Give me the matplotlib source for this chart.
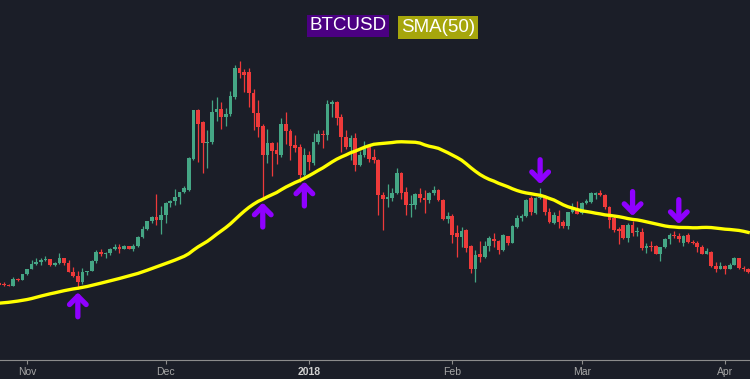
import numpy as np
import pandas as pd
import matplotlib
matplotlib.use('Agg')
import matplotlib.pyplot as plt

# Closes before the visible window (only used for the SMA(50))
early_close = [4599, 4228, 4226, 4122, 4161, 4130, 3882, 3154, 3637, 3625, 3583, 4065,
               3924, 3905, 3631, 3630, 3792, 3682, 3927, 3892, 4201, 4193, 4122, 4338,
               4404, 4409, 4318, 4230, 4329, 4371, 4439, 4611, 4773, 4782, 4820, 5432,
               5637, 5829, 5689, 5754, 5595, 5573, 5695, 6006, 6031, 5930, 5527, 5750, 5904]

# Daily OHLC, 2017-10-26 .. 2018-04-06
ohlc = [
    (5904, 5978, 5733, 5780), (5780, 5967, 5713, 5753), (5753, 5851, 5687, 5726),
    (5726, 6284, 5675, 6155), (6155, 6179, 6028, 6106), (6106, 6470, 6090, 6468),
    # Nov
    (6468, 6804, 6394, 6767), (6767, 7367, 6760, 7078), (7078, 7461, 7003, 7208),
    (7208, 7493, 7031, 7379), (7379, 7601, 7297, 7407), (7407, 7417, 6959, 7023),
    (7023, 7207, 6986, 7145), (7145, 7776, 7079, 7460), (7460, 7506, 7057, 7144),
    (7144, 7335, 6599, 6618), (6618, 6874, 6285, 6357), (6357, 6625, 5506, 5950),
    (5950, 6811, 5844, 6559), (6559, 6673, 6423, 6635), (6635, 7330, 6634, 7315),
    (7315, 7964, 7176, 7871), (7871, 8021, 7600, 7708), (7708, 7884, 7508, 7790),
    (7790, 8101, 7694, 8036), (8036, 8336, 7981, 8200), (8200, 8370, 7823, 8071),
    (8071, 8302, 8050, 8253), (8253, 8267, 8020, 8038), (8038, 8349, 7949, 8253),
    (8253, 8852, 8174, 8791), (8791, 9522, 8775, 9330), (9330, 9817, 9286, 9818),
    (9818, 10125, 9671, 10058), (10058, 11517, 9601, 9888), (9888, 10801, 9009, 10233),
    # Dec
    (10233, 11047, 9694, 10975), (10975, 11190, 10691, 11074), (11074, 11858, 10863, 11323),
    (11323, 11657, 10923, 11657), (11657, 12032, 11604, 11916), (11800, 13900, 11750, 13834),
    (13770, 16900, 13700, 16885), (16885, 16950, 13580, 15995), (16122, 16185, 12880, 14788),
    (14788, 15614, 13198, 14851), (14851, 17521, 14700, 16758), (16758, 17700, 16200, 16950),
    (16950, 17400, 15700, 16440), (16440, 17000, 15900, 16630), (16630, 18100, 16500, 17776),
    (17712, 19750, 17600, 19555), (19555, 20000, 18950, 19238), (19300, 19500, 18050, 19100),
    (19301, 19560, 17050, 17966), (17966, 18250, 15600, 16695), (16695, 17521, 15170, 15800),
    (15870, 16000, 11300, 14000), (14000, 15700, 13500, 14788), (14788, 14850, 12700, 14300),
    (14340, 14850, 13450, 14100), (14000, 16400, 13900, 16000), (16000, 16750, 14700, 15550),
    (15550, 15650, 13700, 14600), (14660, 15300, 14200, 14470), (14530, 14700, 12300, 12750),
    (12750, 14500, 12700, 14050),
    # Jan
    (14030, 14300, 13100, 13580), (13530, 15400, 13400, 14850), (14850, 15600, 14700, 15360),
    (15360, 15610, 14470, 15300), (15300, 17500, 15000, 17250), (17250, 17530, 16450, 17400),
    (17400, 17450, 15950, 16380), (16440, 16600, 14200, 15170), (15170, 15600, 14400, 14530),
    (14530, 15300, 13700, 15110), (15110, 15400, 13000, 13390), (13390, 14300, 13300, 14030),
    (14030, 14900, 13900, 14530), (14530, 14700, 13600, 13800), (13900, 14400, 13500, 13700),
    (13700, 13750, 10210, 11480), (11480, 11700, 9257, 11230), (11230, 12200, 10700, 11370),
    (11300, 11950, 11100, 11610), (11610, 13200, 11550, 12880), (12880, 12950, 11230, 11610),
    (11670, 12000, 10200, 10846), (10846, 11500, 10100, 10900), (10846, 11600, 10600, 11545),
    (11545, 11900, 11050, 11290), (11290, 11800, 10350, 11160), (11160, 11700, 10950, 11610),
    (11610, 12050, 11500, 11800), (11800, 11850, 11100, 11160), (11160, 11250, 9900, 9955),
    (9955, 10400, 9700, 10145),
    # Feb
    (10145, 10250, 8440, 8940), (9070, 9600, 7540, 8810), (8810, 9460, 8180, 9217),
    (9270, 9330, 7840, 8110), (8240, 8300, 6510, 6770), (6770, 8000, 5950, 7668),
    (7730, 8560, 7230, 7540), (7540, 8560, 7500, 8240), (8240, 8900, 7900, 8750),
    (8690, 9050, 8200, 8560), (8560, 8600, 7750, 7990), (7990, 9000, 7950, 8940),
    (8880, 8900, 8300, 8430), (8430, 9550, 8400, 9510), (9450, 10200, 9400, 10020),
    (10020, 10300, 9800, 10150), (10150, 11200, 10100, 11170), (11290, 11400, 10200, 10400),
    (10340, 11350, 10300, 11290), (11290, 11958, 11200, 11360), (11290, 11500, 10200, 10400),
    (10400, 10650, 9700, 9760), (9700, 10400, 9650, 10210), (10150, 10530, 9380, 9760),
    (9760, 9900, 9400, 9520), (9510, 10420, 9350, 10400), (10400, 10950, 10350, 10720),
    (10590, 11100, 10250, 10270),
    # Mar
    (10340, 11050, 10300, 10970), (10970, 11200, 10900, 11100), (11040, 11700, 11000, 11610),
    (11500, 11700, 11200, 11600), (11610, 11780, 11400, 11500), (11480, 11550, 10600, 10720),
    (10720, 10800, 9400, 9890), (10000, 10150, 9100, 9260), (9320, 9470, 8350, 9200),
    (9570, 9600, 8700, 8750), (8750, 9700, 8500, 9570), (9570, 9850, 8900, 9070),
    (9130, 9450, 8900, 9200), (9130, 9400, 8000, 8110), (8110, 8430, 7800, 8240),
    (8240, 8540, 7950, 8200), (8240, 8300, 7700, 7730), (7730, 8200, 7280, 8170),
    (8170, 8750, 8100, 8680), (8680, 9050, 8350, 8940), (8940, 9180, 8750, 8870),
    (8880, 9050, 8500, 8700), (8400, 8920, 8270, 8880), (8940, 9050, 8450, 8500),
    (8500, 8650, 8350, 8430), (8430, 8550, 7850, 8180), (8180, 8300, 7700, 7730),
    (7750, 8100, 7700, 7940), (7860, 7950, 6900, 6970), (6970, 7250, 6560, 6760),
    (6760, 7200, 6750, 6950),
    # Apr
    (6950, 7050, 6450, 6750), (6800, 7150, 6750, 7060), (7060, 7520, 7030, 7450),
    (7450, 7480, 6750, 6830), (6830, 6950, 6620, 6760), (6760, 6860, 6500, 6570),
]

up_arrow_dates = ['2017-11-12', '2017-12-22', '2017-12-31']
down_arrow_dates = ['2018-02-20', '2018-03-12', '2018-03-22']

tick_dates = ['2017-11-01', '2017-12-01', '2018-01-01', '2018-02-01', '2018-03-01', '2018-04-01']
tick_labels = ['Nov', 'Dec', '2018', 'Feb', 'Mar', 'Apr']

# Colours
BG = '#1b1e28'
GREEN = '#45a685'
RED = '#ee3a3a'
YELLOW = '#ffff00'
PURPLE = '#8f00ff'

dates = pd.date_range('2017-10-26', periods=len(ohlc), freq='D')
df = pd.DataFrame(ohlc, index=dates, columns=['open', 'high', 'low', 'close'])

# SMA(50) over early closes + visible closes
all_close = pd.Series(early_close + list(df['close']),
                      index=pd.date_range(end=dates[-1], periods=len(early_close) + len(df), freq='D'))
df['sma'] = all_close.rolling(50).mean().loc[dates]

fig = plt.figure(figsize=(7.5, 3.79), dpi=100, facecolor=BG)
ax = fig.add_axes([0, 19 / 379, 1, 360 / 379])
ax.set_facecolor(BG)

up = df['close'] >= df['open']
colors = np.where(up, GREEN, RED)

# Wicks and bodies
ax.vlines(df.index, df['low'], df['high'], colors=colors, linewidth=0.9, zorder=2)
body_low = df[['open', 'close']].min(axis=1)
body_h = (df['close'] - df['open']).abs().clip(lower=45)
ax.bar(df.index, body_h, bottom=body_low, width=0.8, color=colors, linewidth=0, zorder=3)

# SMA line
ax.plot(df.index, df['sma'], color=YELLOW, linewidth=2.4, zorder=4)

# Arrows (up = touch from below, down = touch from above)
arrow_props = dict(arrowstyle='->,head_length=0.6,head_width=0.6',
                   color=PURPLE, lw=3.8, shrinkA=0, shrinkB=2.5)
for d in up_arrow_dates:
    row = df.loc[d]
    y = min(row['low'], row['sma'])
    ax.annotate('', xy=(pd.Timestamp(d), y), xycoords='data',
                xytext=(0, -20), textcoords='offset points',
                arrowprops=arrow_props, zorder=5)
for d in down_arrow_dates:
    row = df.loc[d]
    y = max(row['high'], row['sma'])
    ax.annotate('', xy=(pd.Timestamp(d), y), xycoords='data',
                xytext=(0, 20), textcoords='offset points',
                arrowprops=arrow_props, zorder=5)

# Axes limits
x0 = pd.Timestamp('2017-11-01') - pd.Timedelta(days=5.84)
x1 = pd.Timestamp('2017-11-01') + pd.Timedelta(days=156.4)
ax.set_xlim(x0, x1)
ax.set_ylim(992, 23879)

# Axis styling
for s in ['top', 'left', 'right']:
    ax.spines[s].set_visible(False)
ax.spines['bottom'].set_color('#8c8c8c')
ax.spines['bottom'].set_linewidth(0.8)
ax.set_yticks([])
ax.set_xticks(pd.to_datetime(tick_dates))
ax.set_xticklabels(tick_labels)
ax.tick_params(axis='x', colors='#8c8c8c', length=3, width=0.8, pad=2,
               labelsize=7.5, labelcolor='#a6a6a6')
for lbl in ax.get_xticklabels():
    lbl.set_family('Liberation Sans')
    if lbl.get_text() == '2018':
        lbl.set_fontweight('bold')
        lbl.set_color('#d0d0d0')

# Legend boxes
fig.text(348 / 750, 1 - 26 / 379, 'BTCUSD', color='white', fontsize=13.5,
         family='Liberation Sans', ha='center', va='center',
         bbox=dict(boxstyle='square,pad=0.14', facecolor='#4b0082', edgecolor='none'))
fig.text(438 / 750, 1 - 27.5 / 379, 'SMA(50)', color='white', fontsize=13.5,
         family='Liberation Sans', ha='center', va='center',
         bbox=dict(boxstyle='square,pad=0.14', facecolor='#a6a60c', edgecolor='none'))

fig.savefig('out.png', dpi=100, facecolor=BG)
